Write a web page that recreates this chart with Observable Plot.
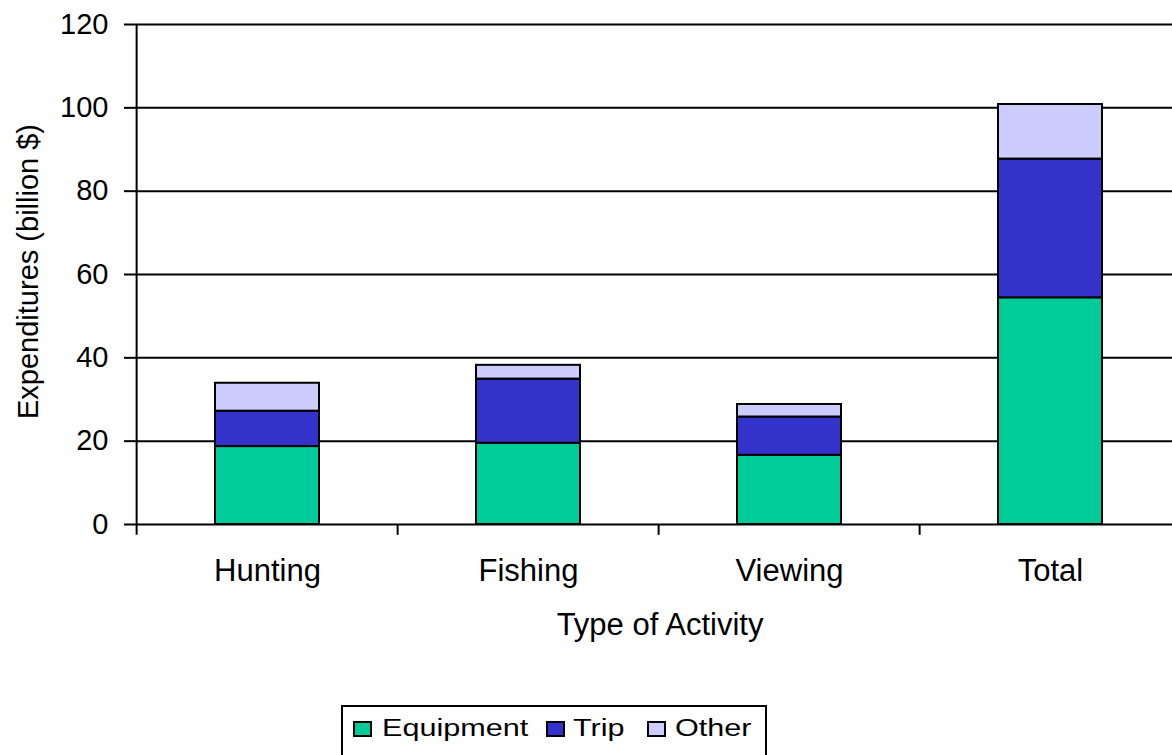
<!DOCTYPE html>
<html>
<head>
<meta charset="utf-8">
<script src="https://cdn.jsdelivr.net/npm/d3@7"></script>
<script src="https://cdn.jsdelivr.net/npm/@observablehq/plot@0.6"></script>
<style>
  html, body { margin: 0; padding: 0; background: white; overflow: hidden; }
  #wrap { position: relative; width: 1172px; height: 755px; font-family: "Liberation Sans", Arial, sans-serif; }
  #chart { position: absolute; left: 0; top: 0; }
  #legend { position: absolute; left: 341px; top: 705px; width: 426px; height: 70px; border: 2px solid black; box-sizing: border-box; background: white; }
  .sw { position: absolute; top: 14px; width: 19px; height: 16px; border: 2px solid black; box-sizing: border-box; }
  .lt { position: absolute; display: inline-block; top: 10px; font-size: 23px; line-height: 23px; transform: scaleX(1.33); transform-origin: left center; white-space: nowrap; color: black; }
</style>
</head>
<body>
<div id="wrap">
  <div id="chart"></div>
  <div id="legend"></div>
</div>
<script>
const categories = ["Hunting", "Fishing", "Viewing", "Total"];
const seriesNames = ["Equipment", "Trip", "Other"];
const equipment = [18.7, 19.5, 16.6, 54.4];
const trip = [8.5, 15.4, 9.2, 33.3];
const other = [6.7, 3.3, 3.0, 13.1];
const yTicks = [0, 20, 40, 60, 80, 100, 120];
const seriesColors = ["#00CC99", "#3333CC", "#CCCCFF"];
const xLabel = "Type of Activity";
const yLabel = "Expenditures (billion $)";

const seriesValues = [equipment, trip, other];
const data = [];
seriesNames.forEach((s, si) => {
  categories.forEach((c, ci) => {
    data.push({category: c, series: s, value: seriesValues[si][ci]});
  });
});

const x0 = 135, x1 = 1182;
const half = (x1 - x0) / categories.length / 2;

const chart = Plot.plot({
  width: 1172,
  height: 690,
  marginTop: 24,
  marginLeft: 135,
  marginRight: 0,
  marginBottom: 166,
  style: {fontFamily: "'Liberation Sans', Arial, sans-serif", fontSize: "29px", color: "black", background: "white", overflow: "visible"},
  x: {domain: categories, range: [x0, x1], paddingInner: 0.6, paddingOuter: 0.3},
  y: {domain: [0, 120], range: [524, 24]},
  color: {domain: seriesNames, range: seriesColors},
  marks: [
    Plot.gridY(yTicks.filter(d => d > 0), {stroke: "black", strokeOpacity: 1, strokeWidth: 2}),
    Plot.barY(data, {x: "category", y: "value", fill: "series", stroke: "black", strokeWidth: 2}),
    Plot.ruleY([0], {stroke: "black", strokeWidth: 2}),
    Plot.ruleX(categories, {x: d => d, y1: -2.6, y2: (d, i) => i === 0 ? 120 : 0, dx: -half, stroke: "black", strokeWidth: 2}),
    Plot.axisY(yTicks, {tickSize: 11, tickPadding: 16, fontSize: 29, label: null, strokeWidth: 2}),
    Plot.axisX({tickSize: 0, tickPadding: 34, fontSize: 31, label: null}),
    Plot.text([xLabel], {frameAnchor: "bottom", lineAnchor: "top", dy: 88, dx: 6, fontSize: 31, fill: "black"}),
    Plot.text([yLabel], {frameAnchor: "left", textAnchor: "middle", rotate: -90, dx: -107, dy: -3, fontSize: 29, fill: "black"})
  ]
});
document.getElementById("chart").appendChild(chart);

const legend = document.getElementById("legend");
const swLeft = [10, 203, 304];
const txLeft = [39, 230, 332];
seriesNames.forEach((s, i) => {
  const sw = document.createElement("div");
  sw.className = "sw";
  sw.style.left = swLeft[i] + "px";
  sw.style.background = seriesColors[i];
  legend.appendChild(sw);
  const t = document.createElement("span");
  t.className = "lt";
  t.style.left = txLeft[i] + "px";
  t.textContent = s;
  legend.appendChild(t);
});
</script>
</body>
</html>
